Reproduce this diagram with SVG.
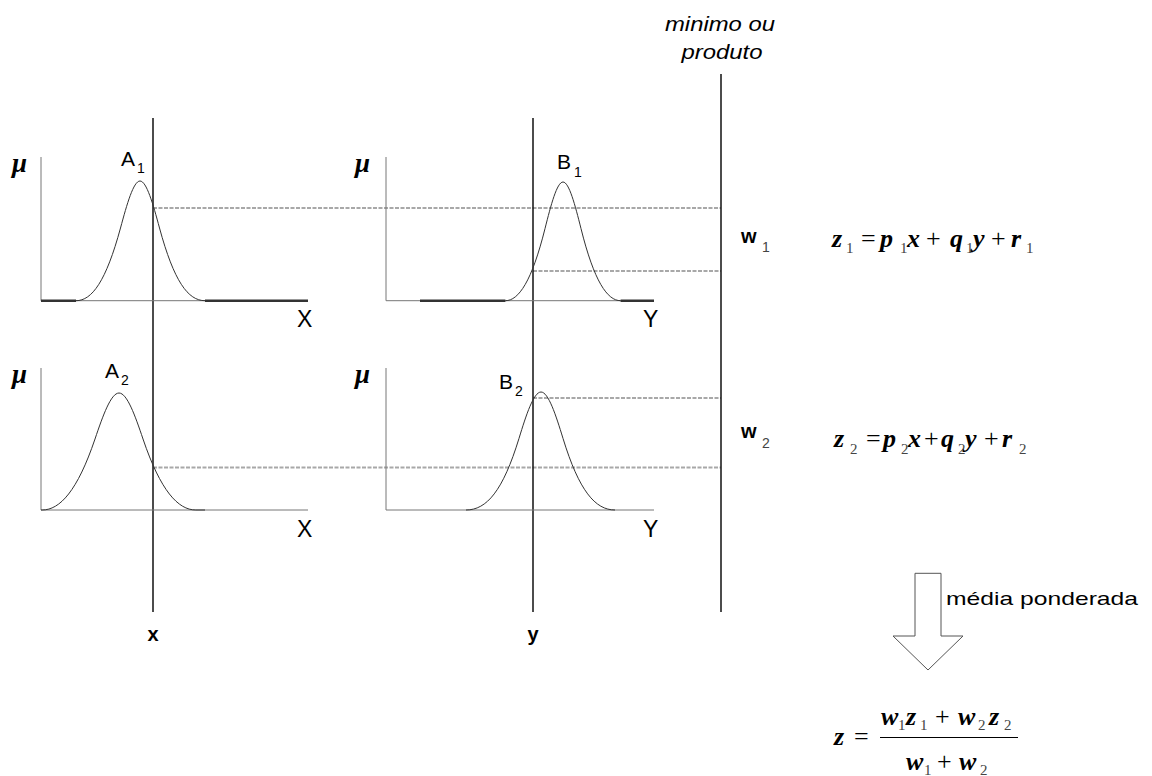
<svg xmlns="http://www.w3.org/2000/svg" width="1152" height="776" viewBox="0 0 1152 776">
<style>
.bg{fill:#fff}
.axis{stroke:#777;stroke-width:1;fill:none}
.flat{stroke:#333;stroke-width:2.4;fill:none}
.mf{stroke:#333;stroke-width:1;fill:none}
.vline{stroke:#111;stroke-width:1.5;fill:none}
.dash{stroke:#a8a8a8;stroke-width:2.2;stroke-dasharray:4 1.5;fill:none}
.mu{font-family:"Liberation Serif",serif;font-style:italic;font-weight:bold;font-size:27px;fill:#000}
.lbl{font-family:"Liberation Sans",Arial,sans-serif;font-size:21px;fill:#000}
.sub{font-family:"Liberation Sans",Arial,sans-serif;font-size:14px;fill:#000}
.ax{font-family:"Liberation Sans",Arial,sans-serif;font-size:23px;fill:#000}
.it{font-family:"Liberation Sans",Arial,sans-serif;font-style:italic;font-size:20px;fill:#000}
.w{font-family:"Liberation Sans",Arial,sans-serif;font-weight:bold;font-size:20px;fill:#000}
.wsub{font-family:"Liberation Sans",Arial,sans-serif;font-size:14px;fill:#444}
.v{font-family:"Liberation Serif",serif;font-style:italic;font-weight:bold;font-size:26px;fill:#000}
.op{font-family:"Liberation Serif",serif;font-size:26px;fill:#000}
.vs{font-family:"Liberation Serif",serif;font-size:15px;fill:#444}
.xy{font-family:"Liberation Sans",Arial,sans-serif;font-weight:bold;font-size:20px;fill:#000}
.note{font-family:"Liberation Sans",Arial,sans-serif;font-size:19px;fill:#000}
.arrow{fill:#fff;stroke:#555;stroke-width:1}
</style>
<rect class="bg" x="0" y="0" width="1152" height="776"/>

<g id="connectors">
  <line class="dash" x1="153" y1="208" x2="721" y2="208"/>
  <line class="dash" x1="533" y1="271" x2="721" y2="271"/>
  <line class="dash" x1="533" y1="398" x2="721" y2="398"/>
  <line class="dash" x1="153" y1="467.5" x2="721" y2="467.5"/>
  <line class="vline" x1="153" y1="118" x2="153" y2="612"/>
  <line class="vline" x1="533" y1="118" x2="533" y2="612"/>
  <line class="vline" x1="721" y1="74" x2="721" y2="612"/>
</g>

<g id="plot-A1">
  <polyline class="axis" points="41,157 41,300.7 308,300.7"/>
  <line class="flat" x1="41" y1="300.7" x2="76" y2="300.7"/>
  <line class="flat" x1="205" y1="300.7" x2="308" y2="300.7"/>
  <path class="mf" d="M76,300.7 C92,300.7 106,281.3 120.5,228 C127,203.9 133.5,181 140,181 C146.5,181 153,203.9 159.5,228 C174,281.3 188,300.7 205,300.7"/>
  <text class="mu" x="12" y="172">μ</text>
  <text class="lbl" x="121" y="166">A</text>
  <text class="sub" x="137" y="173">1</text>
  <text class="ax" x="297" y="327">X</text>
</g>

<g id="plot-B1">
  <polyline class="axis" points="386,157 386,300.7 654,300.7"/>
  <line class="flat" x1="420" y1="300.7" x2="505.4" y2="300.7"/>
  <line class="flat" x1="620.6" y1="300.7" x2="654" y2="300.7"/>
  <path class="mf" d="M505.4,300.7 C518.6,300.7 531.8,281.5 545,228.6 C551,204.7 557,182 563,182 C569,182 575,204.7 581,228.6 C594.2,281.5 607.4,300.7 620.6,300.7"/>
  <text class="mu" x="355" y="172">μ</text>
  <text class="lbl" x="557" y="169">B</text>
  <text class="sub" x="574" y="177">1</text>
  <text class="ax" x="643" y="327">Y</text>
</g>

<g id="plot-A2">
  <polyline class="axis" points="41,368 41,510 308,510"/>
  <path class="mf" d="M41,510 L42.2,510 C59.8,510 77.4,491 95,439 C103,415.3 111,393 119,393 C127,393 135,415.3 143,439 C160.6,491 178.2,510 195.8,510 L205,510"/>
  <text class="mu" x="12" y="383">μ</text>
  <text class="lbl" x="105" y="378">A</text>
  <text class="sub" x="121" y="385">2</text>
  <text class="ax" x="297" y="537">X</text>
</g>

<g id="plot-B2">
  <polyline class="axis" points="386,368 386,510 654,510"/>
  <path class="mf" d="M466,510 C486.7,510 502.9,490.9 519,438.4 C526.3,414.5 533.7,392 541,392 C548.3,392 555.7,414.5 563,438.4 C579.1,490.9 595.3,510 615,510"/>
  <text class="mu" x="355" y="383">μ</text>
  <text class="lbl" x="499" y="389">B</text>
  <text class="sub" x="515" y="396">2</text>
  <text class="ax" x="643" y="537">Y</text>
</g>

<g id="label-min">
  <text class="it" x="720" y="31" text-anchor="middle" textLength="110" lengthAdjust="spacingAndGlyphs">minimo ou</text>
  <text class="it" x="722" y="59" text-anchor="middle" textLength="81" lengthAdjust="spacingAndGlyphs">produto</text>
</g>

<g id="rule1">
  <text class="w" x="741" y="243">w</text>
  <text class="wsub" x="762" y="252">1</text>
  <text class="v" x="832" y="247">z</text>
  <text class="vs" x="846" y="253">1</text>
  <text class="op" x="861" y="247">=</text>
  <text class="v" x="880" y="247">p</text>
  <text class="vs" x="900" y="253">1</text>
  <text class="v" x="907" y="247">x</text>
  <text class="op" x="926" y="247">+</text>
  <text class="v" x="950" y="247">q</text>
  <text class="vs" x="966" y="253">1</text>
  <text class="v" x="973" y="247">y</text>
  <text class="op" x="991" y="247">+</text>
  <text class="v" x="1011" y="247">r</text>
  <text class="vs" x="1026" y="253">1</text>
</g>

<g id="rule2">
  <text class="w" x="741" y="438">w</text>
  <text class="wsub" x="762" y="448">2</text>
  <text class="v" x="834" y="447">z</text>
  <text class="vs" x="850" y="454">2</text>
  <text class="op" x="866" y="447">=</text>
  <text class="v" x="883" y="447">p</text>
  <text class="vs" x="901" y="454">2</text>
  <text class="v" x="908" y="447">x</text>
  <text class="op" x="924" y="447">+</text>
  <text class="v" x="941" y="447">q</text>
  <text class="vs" x="958" y="454">2</text>
  <text class="v" x="965" y="447">y</text>
  <text class="op" x="984" y="447">+</text>
  <text class="v" x="1002" y="447">r</text>
  <text class="vs" x="1019" y="454">2</text>
</g>

<g id="input-x">
  <text class="xy" x="153" y="641" text-anchor="middle">x</text>
</g>
<g id="input-y">
  <text class="xy" x="533" y="641" text-anchor="middle">y</text>
</g>

<g id="arrow-media">
  <path class="arrow" d="M915,573.3 H941 V636 H963 L928,670 L893,636 H915 Z"/>
  <text class="note" x="946" y="605" textLength="192" lengthAdjust="spacingAndGlyphs">média ponderada</text>
</g>

<g id="result">
  <text class="v" x="834" y="745">z</text>
  <text class="op" x="854" y="745">=</text>
  <text class="v" x="881" y="725">w</text>
  <text class="vs" x="898" y="730">1</text>
  <text class="v" x="906" y="725">z</text>
  <text class="vs" x="920" y="730">1</text>
  <text class="op" x="935" y="725">+</text>
  <text class="v" x="958" y="725">w</text>
  <text class="vs" x="978" y="730">2</text>
  <text class="v" x="989" y="725">z</text>
  <text class="vs" x="1004" y="730">2</text>
  <line x1="880" y1="737.5" x2="1018" y2="737.5" stroke="#000" stroke-width="1.2"/>
  <text class="v" x="906" y="770">w</text>
  <text class="vs" x="924" y="775">1</text>
  <text class="op" x="937" y="770">+</text>
  <text class="v" x="959" y="770">w</text>
  <text class="vs" x="980" y="775">2</text>
</g>
</svg>
